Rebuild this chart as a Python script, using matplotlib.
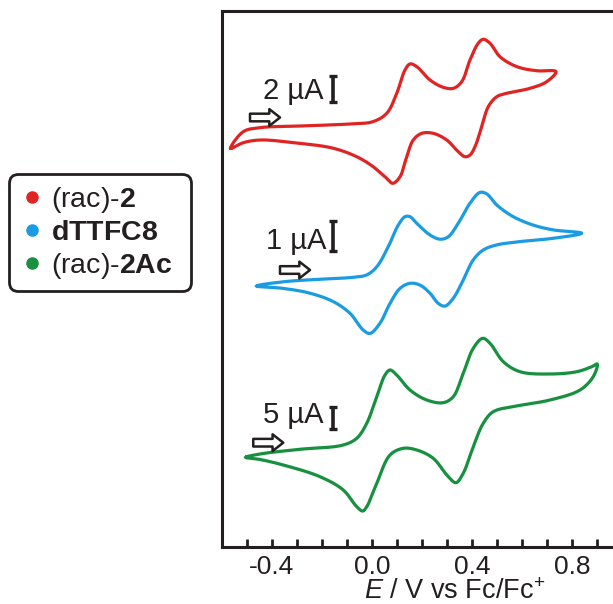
import numpy as np
import matplotlib
matplotlib.use("Agg")
import matplotlib.pyplot as plt
from matplotlib.lines import Line2D
from matplotlib.patches import FancyBboxPatch
from matplotlib.transforms import IdentityTransform
from matplotlib.ticker import MultipleLocator

plt.rcParams['font.family'] = ['Liberation Sans', 'DejaVu Sans']
plt.rcParams['mathtext.fontset'] = 'custom'
plt.rcParams['mathtext.rm'] = 'Liberation Sans'
plt.rcParams['mathtext.it'] = 'Liberation Sans:italic'
plt.rcParams['mathtext.bf'] = 'Liberation Sans:bold'

# ---- data (E in V vs Fc/Fc+, current in uA, closed CV loops) ----
red_E = [-0.565, -0.515, -0.448, -0.288, -0.088, 0.004, 0.059, 0.099, 0.132, 0.152,
         0.179, 0.232, 0.285, 0.325, 0.359, 0.392, 0.425, 0.445, 0.472, 0.512,
         0.579, 0.659, 0.736, 0.699, 0.632, 0.539, 0.499, 0.465, 0.439, 0.412,
         0.392, 0.372, 0.345, 0.299, 0.245, 0.199, 0.165, 0.139, 0.112, 0.083,
         0.059, 0.005, -0.061, -0.155, -0.288, -0.448, -0.515]
red_I = [-1.03, 0.26, 0.57, 0.70, 0.86, 1.04, 1.69, 3.25, 5.06, 5.53,
         5.32, 4.28, 3.71, 3.63, 4.15, 5.84, 7.14, 7.45, 7.14, 6.09,
         5.32, 5.00, 4.93, 4.15, 3.63, 3.25, 2.98, 2.20, 0.65, -0.91,
         -1.56, -1.69, -1.30, -0.39, 0.13, 0.13, -0.39, -1.69, -3.25, -3.76,
         -3.37, -2.47, -1.69, -1.03, -0.65, -0.39, -0.60]

blue_E = [-0.461, -0.355, -0.221, -0.075, -0.021, 0.019, 0.065, 0.105, 0.132, 0.152,
          0.179, 0.232, 0.272, 0.305, 0.345, 0.392, 0.432, 0.459, 0.499, 0.565,
          0.645, 0.725, 0.839, 0.725, 0.592, 0.499, 0.445, 0.405, 0.365, 0.325,
          0.292, 0.265, 0.232, 0.192, 0.152, 0.112, 0.072, 0.032, -0.008, -0.035,
          -0.088, -0.155, -0.248, -0.355]
blue_I = [-0.80, -0.66, -0.58, -0.51, -0.43, -0.16, 0.51, 1.23, 1.51, 1.51,
          1.29, 0.90, 0.76, 0.84, 1.29, 1.96, 2.32, 2.27, 1.90, 1.51,
          1.23, 1.07, 0.96, 0.79, 0.68, 0.57, 0.40, 0.07, -0.60, -1.21,
          -1.47, -1.38, -1.04, -0.77, -0.71, -0.88, -1.38, -2.04, -2.38, -2.27,
          -1.71, -1.32, -1.04, -0.88]

green_E = [-0.504, -0.448, -0.288, -0.115, -0.061, -0.021, 0.019, 0.052, 0.072, 0.099,
           0.152, 0.219, 0.285, 0.325, 0.365, 0.405, 0.443, 0.472, 0.525, 0.592,
           0.712, 0.819, 0.879, 0.901, 0.885, 0.832, 0.712, 0.579, 0.485, 0.445,
           0.405, 0.365, 0.336, 0.305, 0.245, 0.179, 0.125, 0.072, 0.019, -0.021,
           -0.037, -0.061, -0.115, -0.208, -0.355, -0.448]
green_I = [-7.34, -6.59, -5.52, -4.55, -3.02, 0.39, 6.43, 11.36, 12.50, 11.36,
           7.95, 5.68, 5.07, 6.43, 11.75, 17.43, 19.70, 18.57, 14.39, 12.11,
           11.59, 12.11, 13.25, 13.86, 10.98, 7.95, 5.68, 4.32, 3.02, 0.39,
           -4.93, -10.98, -13.11, -11.75, -7.57, -5.68, -5.30, -6.82, -13.25, -18.57,
           -19.55, -18.57, -14.77, -11.75, -9.09, -7.84]

labels = [r"(rac)-$\mathbf{2}$", r"$\mathbf{dTTFC8}$", r"(rac)-$\mathbf{2Ac}$"]
colors = ["#e02424", "#1b9ce2", "#17903f"]
scale_values = [2, 1, 5]           # uA scale bars
tick_labels = ["-0.4", "0.0", "0.4", "0.8"]

# display scaling (px per uA) and vertical offsets for stacked traces
k_scale = [12.85, 30.0, 4.4]
offsets = [412, 285, 122]


def smooth_loop(x, y, n=16):
    """Centripetal Catmull-Rom through a closed sequence of read points."""
    P = np.column_stack([x, y])
    m = len(P)
    sx = 250.0  # make x comparable to y for the parameterisation
    out = []
    for i in range(m):
        p0, p1, p2, p3 = P[(i - 1) % m], P[i], P[(i + 1) % m], P[(i + 2) % m]
        def dist(a, b):
            return max(np.hypot((a[0] - b[0]) * sx, a[1] - b[1]) ** 0.5, 1e-6)
        t0 = 0.0
        t1 = t0 + dist(p0, p1)
        t2 = t1 + dist(p1, p2)
        t3 = t2 + dist(p2, p3)
        t = np.linspace(t1, t2, n, endpoint=False)[:, None]
        A1 = (t1 - t) / (t1 - t0) * p0 + (t - t0) / (t1 - t0) * p1
        A2 = (t2 - t) / (t2 - t1) * p1 + (t - t1) / (t2 - t1) * p2
        A3 = (t3 - t) / (t3 - t2) * p2 + (t - t2) / (t3 - t2) * p3
        B1 = (t2 - t) / (t2 - t0) * A1 + (t - t0) / (t2 - t0) * A2
        B2 = (t3 - t) / (t3 - t1) * A2 + (t - t1) / (t3 - t1) * A3
        C = (t2 - t) / (t2 - t1) * B1 + (t - t1) / (t2 - t1) * B2
        out.append(C)
    out.append(P[:1])
    C = np.vstack(out)
    return C[:, 0], C[:, 1]


W, H = 613, 604
fig = plt.figure(figsize=(W / 100, H / 100), dpi=100)
ax = fig.add_axes([222 / W, (604 - 547) / H, (688 - 222) / W, (547 - 11) / H])

ink = "#231f20"
traces = [(red_E, red_I), (blue_E, blue_I), (green_E, green_I)]
for (E, I), c, k, off in zip(traces, colors, k_scale, offsets):
    yy = off + k * np.asarray(I)
    xs, ys = smooth_loop(np.asarray(E), yy)
    ax.plot(xs, ys, color=c, lw=2.3, solid_joinstyle='round')

# scale bars, labels and scan-direction arrows
bar_x = -0.157
text_pos = [(-0.436, 448), (-0.425, 298), (-0.436, 124)]
bar_lo = [445.3, 296.0, 117.7]
arrow_pos = [(-0.488, -0.368, 429.5), (-0.368, -0.248, 277), (-0.475, -0.355, 104.3)]
for i in range(3):
    lo = bar_lo[i]
    hi = lo + k_scale[i] * scale_values[i]
    ax.plot([bar_x, bar_x], [lo, hi], color=ink, lw=2.6, solid_capstyle='butt')
    for yv in (lo, hi):
        ax.plot([bar_x - 0.016, bar_x + 0.016], [yv, yv], color=ink, lw=2.4,
                solid_capstyle='butt')
    tx, ty = text_pos[i]
    ax.text(tx, ty, f"{scale_values[i]} µA", fontsize=21, color=ink,
            ha='left', va='baseline')
    x0, x1, ya = arrow_pos[i]
    ax.annotate("", xy=(x1, ya), xytext=(x0, ya),
                arrowprops=dict(arrowstyle="simple,head_length=0.7,head_width=1.1,tail_width=0.5",
                                fc="white", ec=ink, lw=1.8, shrinkA=0, shrinkB=0,
                                mutation_scale=11))

ax.set_xlim(-0.6, (688 - 372) / 250)
ax.set_ylim(0, 536)
ax.set_yticks([])
ax.spines['right'].set_visible(False)
for s in ('left', 'top', 'bottom'):
    ax.spines[s].set_linewidth(2.2)
    ax.spines[s].set_color(ink)
ax.xaxis.set_major_locator(MultipleLocator(0.4))
ax.xaxis.set_minor_locator(MultipleLocator(0.1))
ax.set_xticks([-0.4, 0.0, 0.4, 0.8])
ax.set_xticklabels(tick_labels)
ax.tick_params(axis='x', which='both', direction='in', length=6, width=2,
               color=ink, labelsize=19, pad=6, labelcolor=ink)
ax.set_xlabel(r"$\mathit{E}$ / V vs Fc/Fc$^{+}$", fontsize=19.5, color=ink, labelpad=-0.5)

# legend (frame drawn separately as a rounded box)
handles = [Line2D([], [], ls='none', marker='o', ms=8, mfc=c, mec=c) for c in colors]
leg = fig.legend(handles, labels, loc='upper left', bbox_to_anchor=(9.3 / W, 1 - 176 / H),
                 borderaxespad=0, fontsize=20.5, frameon=False,
                 handletextpad=0.15, handlelength=1.0, labelspacing=0.19,
                 borderpad=0.3)
for t in leg.get_texts():
    t.set_color(ink)
box = FancyBboxPatch((9.5, 604 - 291.5), 182.0, 117.0,
                     boxstyle="round,pad=0,rounding_size=9",
                     transform=IdentityTransform(), fc="white", ec=ink, lw=2.0,
                     zorder=0)
fig.patches.append(box)

fig.savefig("out.png", dpi=100)
